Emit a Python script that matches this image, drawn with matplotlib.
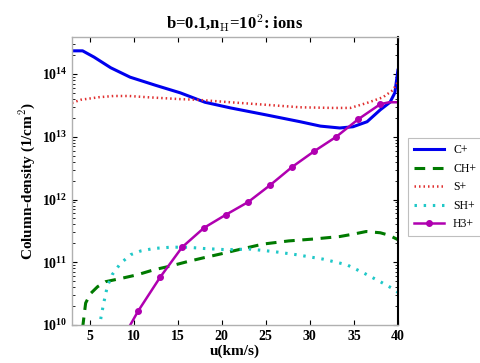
import numpy as np
import matplotlib
matplotlib.use("Agg")
import matplotlib.pyplot as plt

plt.rcParams['mathtext.fontset'] = 'cm'
plt.rcParams['mathtext.default'] = 'bf'
plt.rcParams['font.family'] = ['Liberation Serif', 'DejaVu Serif']
plt.rcParams['font.weight'] = 'bold'

# C+ (log10 column density)
cp_u = [3, 4.2, 5.5, 7.4, 9.6, 12.5, 15.3, 18.1, 21, 25, 28.9, 31.2, 33.4, 34.9, 36.5, 38, 39.1, 39.65, 40]
cp_L = [14.37, 14.37, 14.27, 14.10, 13.95, 13.82, 13.70, 13.55, 13.46, 13.35, 13.24, 13.17, 13.14, 13.16,
        13.24, 13.43, 13.55, 13.70, 14.06]

# CH+
chp_u = [4.2, 4.55, 5.1, 5.9, 6.8, 8.5, 10.4, 12.3, 14.2, 16.1, 17.9, 19.8, 21.9, 24.7, 27.6, 30.4, 33.4,
         35.0, 36.4, 38.0, 39.0, 40.0]
chp_L = [9.95, 10.35, 10.5, 10.61, 10.69, 10.74, 10.80, 10.88, 10.94, 11.01, 11.07, 11.13, 11.20, 11.29,
         11.34, 11.37, 11.41, 11.45, 11.49, 11.47, 11.43, 11.36]

# S+
sp_u = [3, 4, 6, 7.7, 9.5, 11.6, 15.3, 17.2, 21, 25, 28.9, 32.6, 34.6, 36.5, 38.3, 39.4, 40]
sp_L = [13.54, 13.59, 13.63, 13.65, 13.65, 13.63, 13.60, 13.59, 13.55, 13.51, 13.47, 13.46, 13.46, 13.54,
        13.63, 13.74, 13.87]

# SH+
shp_u = [6.1, 6.3, 6.6, 7.0, 7.55, 8.5, 9.65, 10.8, 12.3, 14.2, 16.1, 17.9, 20.6, 23.2, 25.9, 28.5, 31.5,
         34.2, 36.1, 38.0, 39.65, 40.0]
shp_L = [9.95, 10.13, 10.35, 10.61, 10.80, 10.98, 11.12, 11.18, 11.22, 11.24, 11.24, 11.22, 11.20, 11.21,
         11.17, 11.12, 11.05, 10.96, 10.83, 10.69, 10.56, 10.52]

# H3+
h3_u = [8.0, 10.5, 13.0, 15.5, 18.0, 20.5, 23.0, 25.5, 28.0, 30.5, 33.0, 35.5, 38.0, 39.0, 40.0]
h3_L = [9.6, 10.22, 10.76, 11.24, 11.55, 11.76, 11.96, 12.23, 12.52, 12.77, 13.0, 13.28, 13.52, 13.55, 13.55]

fig = plt.figure(figsize=(4.8, 3.63), dpi=100)
ax = fig.add_axes([0.15, 0.1047, 0.679, 0.7933])

ax.plot(cp_u, 10 ** np.array(cp_L), color='#0000ee', lw=2.2, label='C+')
ax.plot(chp_u, 10 ** np.array(chp_L), color='#007a00', lw=2.2, ls=(0, (3.5, 2.5)), label='CH+')
ax.plot(sp_u, 10 ** np.array(sp_L), color='#e03030', lw=1.8, ls=(0, (0.6, 1.2)), label='S+')
ax.plot(shp_u, 10 ** np.array(shp_L), color='#20c8c8', lw=2.2, ls=(0, (0.8, 2.2)), label='SH+')
ax.plot(h3_u, 10 ** np.array(h3_L), color='#b000b0', lw=1.8, marker='o', ms=4,
        markevery=list(range(0, 13)), label='H3+')

ax.set_yscale('log')
ax.set_xlim(3, 40)
ax.set_ylim(1e10, 10 ** 14.59)
ax.set_xticks([5, 10, 15, 20, 25, 30, 35, 40])
ax.set_yticks([1e10, 1e11, 1e12, 1e13, 1e14])

ax.tick_params(axis='both', which='both', direction='in', top=True, right=True, labelsize=10)
for lab in ax.get_xticklabels() + ax.get_yticklabels():
    lab.set_fontweight('bold')
for name, sp in ax.spines.items():
    sp.set_color('#b0b0b0' if name != 'right' else 'black')
    sp.set_linewidth(1.0 if name != 'right' else 1.5)

ax.set_title(r'b=0.1,n$_{\rm H}$=10$^2$: ions', fontsize=12, fontweight='bold', pad=6)
ax.set_xlabel('u(km/s)', fontsize=11, fontweight='bold', labelpad=1)
ax.set_ylabel(r'Column-density (1/cm$^2$)', fontsize=11, fontweight='bold', labelpad=3)

leg = fig.legend(loc='upper left', bbox_to_anchor=(0.838, 0.635), fontsize=8.5, frameon=True,
                 fancybox=False, edgecolor='#b0b0b0', handlelength=2.5, labelspacing=0.55,
                 borderpad=0.5, prop={'family': ['Liberation Serif'], 'weight': 'normal', 'size': 8.5})
leg.get_frame().set_linewidth(0.8)

fig.savefig('out.png', dpi=100)
